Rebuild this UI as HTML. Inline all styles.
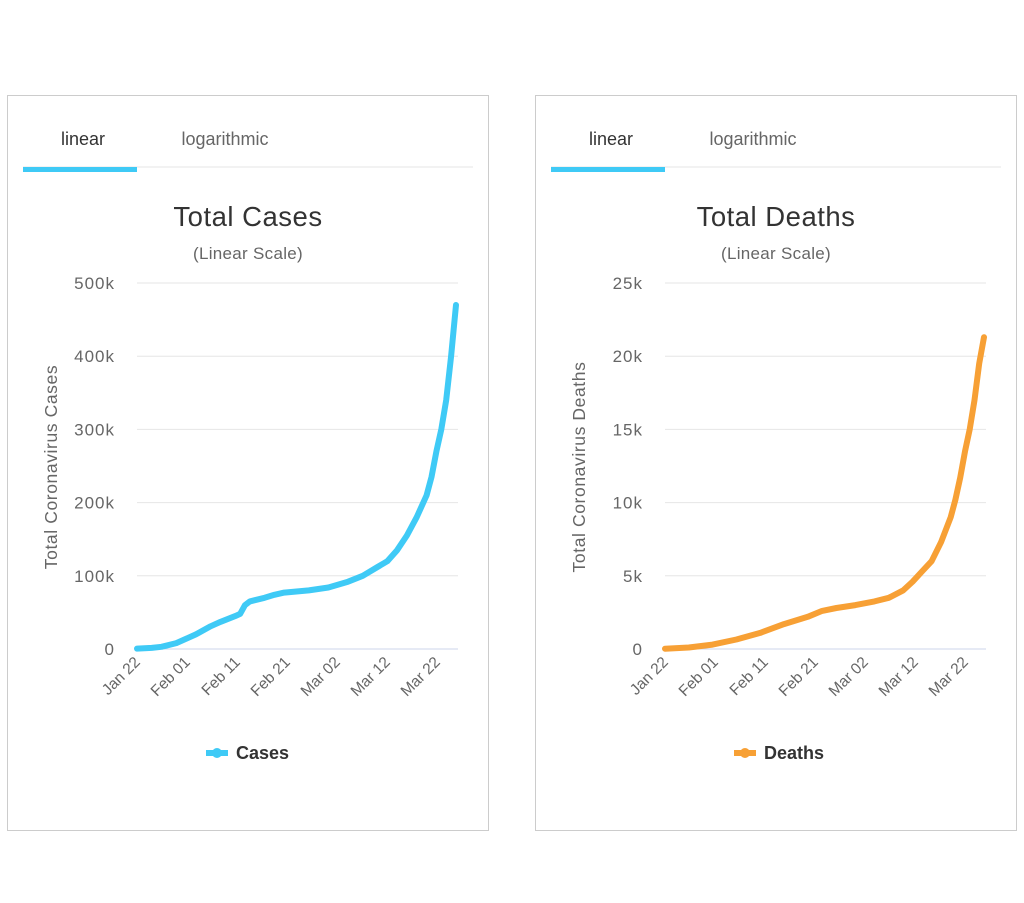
<!DOCTYPE html>
<html><head><style>
body{margin:0;background:#fff;width:1024px;height:898px;overflow:hidden;font-family:"Liberation Sans",sans-serif}
</style></head><body>
<svg id="s" width="1024" height="898" xmlns="http://www.w3.org/2000/svg" font-family="Liberation Sans, sans-serif"></svg>
<script>
const s=document.getElementById('s');let h='';
function panel(ox,title,ytitle,color,name,data,max,last){
 h+=`<rect x="${ox+7.5}" y="95.5" width="481" height="735" fill="#fff" stroke="#ccc"/>`;
 h+=`<line x1="${ox+23}" y1="167" x2="${ox+473}" y2="167" stroke="#e6e6e6"/>`;
 h+=`<rect x="${ox+23}" y="167" width="114" height="5" fill="#3fcaf6"/>`;
 h+=`<text x="${ox+83}" y="145" font-size="18" fill="#333" text-anchor="middle">linear</text>`;
 h+=`<text x="${ox+225}" y="145" font-size="18" fill="#666" text-anchor="middle">logarithmic</text>`;
 h+=`<text x="${ox+248}" y="226" font-size="27.5" fill="#333" text-anchor="middle" letter-spacing="0.5">${title}</text>`;
 h+=`<text x="${ox+248}" y="259" font-size="17" fill="#666" text-anchor="middle" letter-spacing="0.3">(Linear Scale)</text>`;
 h+=`<text transform="translate(${ox+57},467) rotate(-90)" font-size="17.5" fill="#666" text-anchor="middle" letter-spacing="0.6">${ytitle}</text>`;
 for(let i=0;i<=5;i++){const y=649-i*73.2;
  h+=`<line x1="${ox+137}" y1="${y}" x2="${ox+458}" y2="${y}" stroke="${i?'#e6e6e6':'#ccd6eb'}"/>`;
  const lab=i==0?'0':(max*i/5/1000)+'k';
  h+=`<text x="${ox+115}" y="${y+6}" font-size="17" fill="#666" text-anchor="end" letter-spacing="1">${lab}</text>`;}
 const dl=['Jan 22','Feb 01','Feb 11','Feb 21','Mar 02','Mar 12','Mar 22'];
 dl.forEach((d,i)=>{const x=ox+137+i*50;h+=`<text transform="translate(${x+4},${663}) rotate(-45)" font-size="15.5" fill="#666" text-anchor="end">${d}</text>`;});
 const k=319/last;
 const pts=data.map(([d,v])=>`${(ox+137+d*k).toFixed(1)},${(649-v/max*366).toFixed(1)}`).join(' ');
 h+=`<polyline points="${pts}" fill="none" stroke="${color}" stroke-width="6" stroke-linejoin="round" stroke-linecap="round"/>`;
 h+=`<line x1="${ox+206}" y1="753" x2="${ox+228}" y2="753" stroke="${color}" stroke-width="6"/><circle cx="${ox+217}" cy="753" r="5" fill="${color}"/>`;
 h+=`<text x="${ox+236}" y="759" font-size="18" font-weight="bold" fill="#333">${name}</text>`;
}
panel(0,'Total Cases','Total Coronavirus Cases','#3fcaf6','Cases',
[[0,600],[3,1500],[5,3000],[8,8000],[10,14000],[12,20000],[15,31000],[17,37000],[20,45000],[21,48000],[22,60000],[23,65000],[26,70000],[28,74000],[30,77000],[35,80000],[39,84000],[43,92000],[46,100000],[49,112000],[51,120000],[53,135000],[55,155000],[57,180000],[59,210000],[60,235000],[61,270000],[62,300000],[63,340000],[64,400000],[65,470000]],500000,65);
panel(528,'Total Deaths','Total Coronavirus Deaths','#f7a035','Deaths',
[[0,20],[5,100],[10,300],[15,650],[20,1100],[25,1700],[30,2200],[33,2600],[36,2800],[40,3000],[44,3250],[47,3500],[50,4000],[52,4600],[54,5300],[56,6000],[58,7300],[60,9000],[61,10200],[62,11700],[63,13500],[64,15000],[65,17000],[66,19500],[67,21300]],25000,67);
s.innerHTML=h;
</script>
</body></html>
